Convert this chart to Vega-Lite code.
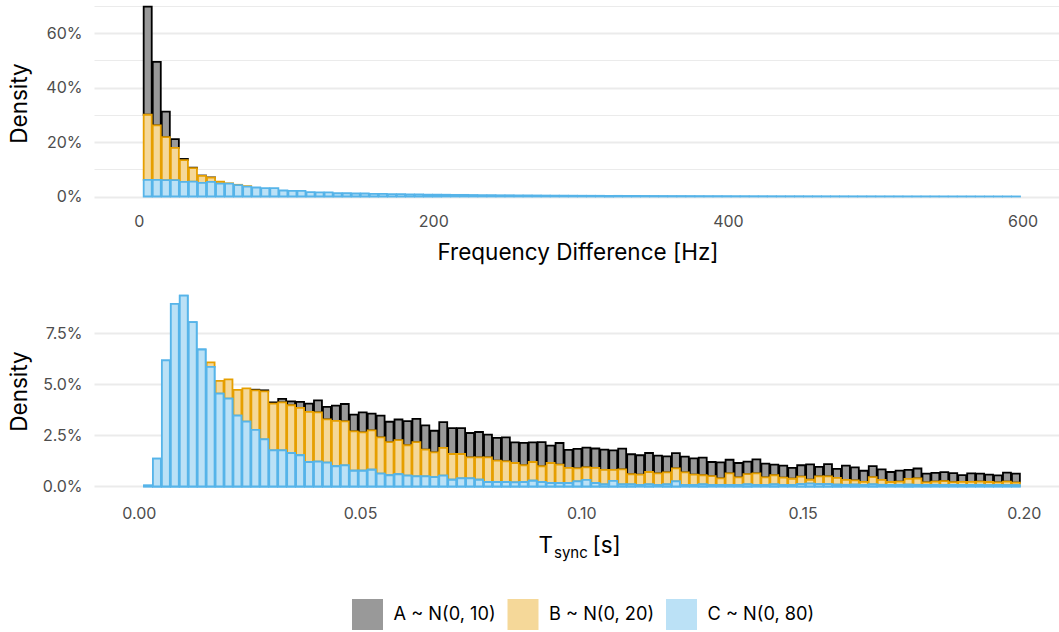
{
  "$schema": "https://vega.github.io/schema/vega-lite/v6.json",
  "background": "white",
  "padding": {"left": 8, "top": -3, "right": 0, "bottom": 0},
  "config": {
    "font": "Inter",
    "view": {"stroke": null},
    "axis": {
      "domain": false,
      "ticks": false,
      "gridColor": "#EBEBEB",
      "labelColor": "#4D4D4D",
      "labelFont": "Inter",
      "labelFontSize": 16,
      "labelOverlap": false,
      "labelFlush": false,
      "titleFont": "Inter",
      "titleFontSize": 22.5,
      "titleFontWeight": "normal",
      "titleColor": "#000000"
    },
    "title": {"font": "Inter", "fontWeight": "normal", "color": "#000000"}
  },
  "datasets": {
    "freq": [
      {"group":"A ~ N(0, 10)","start":2.7,"end":8.84,"density":0.397},
      {"group":"A ~ N(0, 10)","start":8.84,"end":14.98,"density":0.233},
      {"group":"A ~ N(0, 10)","start":14.98,"end":21.12,"density":0.094},
      {"group":"A ~ N(0, 10)","start":21.12,"end":27.26,"density":0.032},
      {"group":"A ~ N(0, 10)","start":27.26,"end":33.4,"density":0.004},
      {"group":"A ~ N(0, 10)","start":33.4,"end":39.54,"density":0.002},
      {"group":"A ~ N(0, 10)","start":39.54,"end":45.68,"density":0.001},
      {"group":"A ~ N(0, 10)","start":45.68,"end":51.82,"density":0.001},
      {"group":"B ~ N(0, 20)","start":2.7,"end":8.84,"density":0.239},
      {"group":"B ~ N(0, 20)","start":8.84,"end":14.98,"density":0.200},
      {"group":"B ~ N(0, 20)","start":14.98,"end":21.12,"density":0.158},
      {"group":"B ~ N(0, 20)","start":21.12,"end":27.26,"density":0.119},
      {"group":"B ~ N(0, 20)","start":27.26,"end":33.4,"density":0.080},
      {"group":"B ~ N(0, 20)","start":33.4,"end":39.54,"density":0.049},
      {"group":"B ~ N(0, 20)","start":39.54,"end":45.68,"density":0.026},
      {"group":"B ~ N(0, 20)","start":45.68,"end":51.82,"density":0.015},
      {"group":"B ~ N(0, 20)","start":51.82,"end":57.96,"density":0.008},
      {"group":"B ~ N(0, 20)","start":57.96,"end":64.1,"density":0.0015},
      {"group":"B ~ N(0, 20)","start":64.1,"end":70.24,"density":0.001},
      {"group":"B ~ N(0, 20)","start":70.24,"end":76.38,"density":0.002},
      {"group":"C ~ N(0, 80)","start":2.7,"end":8.84,"density":0.0613},
      {"group":"C ~ N(0, 80)","start":8.84,"end":14.98,"density":0.0613},
      {"group":"C ~ N(0, 80)","start":14.98,"end":21.12,"density":0.060},
      {"group":"C ~ N(0, 80)","start":21.12,"end":27.26,"density":0.060},
      {"group":"C ~ N(0, 80)","start":27.26,"end":33.4,"density":0.054},
      {"group":"C ~ N(0, 80)","start":33.4,"end":39.54,"density":0.055},
      {"group":"C ~ N(0, 80)","start":39.54,"end":45.68,"density":0.050},
      {"group":"C ~ N(0, 80)","start":45.68,"end":51.82,"density":0.054},
      {"group":"C ~ N(0, 80)","start":51.82,"end":57.96,"density":0.047},
      {"group":"C ~ N(0, 80)","start":57.96,"end":64.1,"density":0.047},
      {"group":"C ~ N(0, 80)","start":64.1,"end":70.24,"density":0.042},
      {"group":"C ~ N(0, 80)","start":70.24,"end":76.38,"density":0.036},
      {"group":"C ~ N(0, 80)","start":76.38,"end":82.52,"density":0.033},
      {"group":"C ~ N(0, 80)","start":82.52,"end":88.66,"density":0.031},
      {"group":"C ~ N(0, 80)","start":88.66,"end":94.8,"density":0.031},
      {"group":"C ~ N(0, 80)","start":94.8,"end":100.94,"density":0.022},
      {"group":"C ~ N(0, 80)","start":100.94,"end":107.08,"density":0.021},
      {"group":"C ~ N(0, 80)","start":107.08,"end":113.22,"density":0.021},
      {"group":"C ~ N(0, 80)","start":113.22,"end":119.36,"density":0.016},
      {"group":"C ~ N(0, 80)","start":119.36,"end":125.5,"density":0.015},
      {"group":"C ~ N(0, 80)","start":125.5,"end":131.64,"density":0.015},
      {"group":"C ~ N(0, 80)","start":131.64,"end":137.78,"density":0.012},
      {"group":"C ~ N(0, 80)","start":137.78,"end":143.92,"density":0.012},
      {"group":"C ~ N(0, 80)","start":143.92,"end":150.06,"density":0.011},
      {"group":"C ~ N(0, 80)","start":150.06,"end":156.2,"density":0.011},
      {"group":"C ~ N(0, 80)","start":156.2,"end":162.34,"density":0.010},
      {"group":"C ~ N(0, 80)","start":162.34,"end":168.48,"density":0.0095},
      {"group":"C ~ N(0, 80)","start":168.48,"end":174.62,"density":0.009},
      {"group":"C ~ N(0, 80)","start":174.62,"end":180.76,"density":0.0085},
      {"group":"C ~ N(0, 80)","start":180.76,"end":186.9,"density":0.008},
      {"group":"C ~ N(0, 80)","start":186.9,"end":193.04,"density":0.0075},
      {"group":"C ~ N(0, 80)","start":193.04,"end":199.18,"density":0.007},
      {"group":"C ~ N(0, 80)","start":199.18,"end":205.32,"density":0.007},
      {"group":"C ~ N(0, 80)","start":205.32,"end":211.46,"density":0.0065},
      {"group":"C ~ N(0, 80)","start":211.46,"end":217.6,"density":0.006},
      {"group":"C ~ N(0, 80)","start":217.6,"end":223.74,"density":0.006},
      {"group":"C ~ N(0, 80)","start":223.74,"end":229.88,"density":0.0055},
      {"group":"C ~ N(0, 80)","start":229.88,"end":236.02,"density":0.005},
      {"group":"C ~ N(0, 80)","start":236.02,"end":242.16,"density":0.005},
      {"group":"C ~ N(0, 80)","start":242.16,"end":248.3,"density":0.0045},
      {"group":"C ~ N(0, 80)","start":248.3,"end":254.44,"density":0.0045},
      {"group":"C ~ N(0, 80)","start":254.44,"end":260.58,"density":0.004},
      {"group":"C ~ N(0, 80)","start":260.58,"end":266.72,"density":0.004},
      {"group":"C ~ N(0, 80)","start":266.72,"end":272.86,"density":0.0038},
      {"group":"C ~ N(0, 80)","start":272.86,"end":279,"density":0.0035},
      {"group":"C ~ N(0, 80)","start":279,"end":285.14,"density":0.0033},
      {"group":"C ~ N(0, 80)","start":285.14,"end":291.28,"density":0.0032},
      {"group":"C ~ N(0, 80)","start":291.28,"end":297.42,"density":0.003},
      {"group":"C ~ N(0, 80)","start":297.42,"end":303.56,"density":0.0028},
      {"group":"C ~ N(0, 80)","start":303.56,"end":309.7,"density":0.0027},
      {"group":"C ~ N(0, 80)","start":309.7,"end":315.84,"density":0.0026},
      {"group":"C ~ N(0, 80)","start":315.84,"end":321.98,"density":0.0025},
      {"group":"C ~ N(0, 80)","start":321.98,"end":328.12,"density":0.0024},
      {"group":"C ~ N(0, 80)","start":328.12,"end":334.26,"density":0.0023},
      {"group":"C ~ N(0, 80)","start":334.26,"end":340.4,"density":0.0022},
      {"group":"C ~ N(0, 80)","start":340.4,"end":346.54,"density":0.0021},
      {"group":"C ~ N(0, 80)","start":346.54,"end":352.68,"density":0.002},
      {"group":"C ~ N(0, 80)","start":352.68,"end":358.82,"density":0.0019},
      {"group":"C ~ N(0, 80)","start":358.82,"end":364.96,"density":0.0018},
      {"group":"C ~ N(0, 80)","start":364.96,"end":371.1,"density":0.0018},
      {"group":"C ~ N(0, 80)","start":371.1,"end":377.24,"density":0.0017},
      {"group":"C ~ N(0, 80)","start":377.24,"end":383.38,"density":0.0016},
      {"group":"C ~ N(0, 80)","start":383.38,"end":389.52,"density":0.0015},
      {"group":"C ~ N(0, 80)","start":389.52,"end":395.66,"density":0.0015},
      {"group":"C ~ N(0, 80)","start":395.66,"end":401.8,"density":0.0014},
      {"group":"C ~ N(0, 80)","start":401.8,"end":407.94,"density":0.0013},
      {"group":"C ~ N(0, 80)","start":407.94,"end":414.08,"density":0.0013},
      {"group":"C ~ N(0, 80)","start":414.08,"end":420.22,"density":0.0012},
      {"group":"C ~ N(0, 80)","start":420.22,"end":426.36,"density":0.0012},
      {"group":"C ~ N(0, 80)","start":426.36,"end":432.5,"density":0.0011},
      {"group":"C ~ N(0, 80)","start":432.5,"end":438.64,"density":0.001},
      {"group":"C ~ N(0, 80)","start":438.64,"end":444.78,"density":0.001},
      {"group":"C ~ N(0, 80)","start":444.78,"end":450.92,"density":0.001},
      {"group":"C ~ N(0, 80)","start":450.92,"end":457.06,"density":0.0009},
      {"group":"C ~ N(0, 80)","start":457.06,"end":463.2,"density":0.0009},
      {"group":"C ~ N(0, 80)","start":463.2,"end":469.34,"density":0.0008},
      {"group":"C ~ N(0, 80)","start":469.34,"end":475.48,"density":0.0008},
      {"group":"C ~ N(0, 80)","start":475.48,"end":481.62,"density":0.0008},
      {"group":"C ~ N(0, 80)","start":481.62,"end":487.76,"density":0.0007},
      {"group":"C ~ N(0, 80)","start":487.76,"end":493.9,"density":0.0007},
      {"group":"C ~ N(0, 80)","start":493.9,"end":500.04,"density":0.0007},
      {"group":"C ~ N(0, 80)","start":500.04,"end":506.18,"density":0.0006},
      {"group":"C ~ N(0, 80)","start":506.18,"end":512.32,"density":0.0006},
      {"group":"C ~ N(0, 80)","start":512.32,"end":518.46,"density":0.0006},
      {"group":"C ~ N(0, 80)","start":518.46,"end":524.6,"density":0.0005},
      {"group":"C ~ N(0, 80)","start":524.6,"end":530.74,"density":0.0005},
      {"group":"C ~ N(0, 80)","start":530.74,"end":536.88,"density":0.0005},
      {"group":"C ~ N(0, 80)","start":536.88,"end":543.02,"density":0.0005},
      {"group":"C ~ N(0, 80)","start":543.02,"end":549.16,"density":0.0004},
      {"group":"C ~ N(0, 80)","start":549.16,"end":555.3,"density":0.0004},
      {"group":"C ~ N(0, 80)","start":555.3,"end":561.44,"density":0.0004},
      {"group":"C ~ N(0, 80)","start":561.44,"end":567.58,"density":0.0004},
      {"group":"C ~ N(0, 80)","start":567.58,"end":573.72,"density":0.0003},
      {"group":"C ~ N(0, 80)","start":573.72,"end":579.86,"density":0.0003},
      {"group":"C ~ N(0, 80)","start":579.86,"end":586,"density":0.0003},
      {"group":"C ~ N(0, 80)","start":586,"end":592.14,"density":0.0003},
      {"group":"C ~ N(0, 80)","start":592.14,"end":598.28,"density":0.0002}
    ],
    "tsync": [
      {"group":"A ~ N(0, 10)","start":0.025214,"end":0.027236,"density":0.0003},
      {"group":"A ~ N(0, 10)","start":0.027236,"end":0.029258,"density":0.0005},
      {"group":"A ~ N(0, 10)","start":0.029258,"end":0.03128,"density":0.0006},
      {"group":"A ~ N(0, 10)","start":0.03128,"end":0.033302,"density":0.0017},
      {"group":"A ~ N(0, 10)","start":0.033302,"end":0.035324,"density":0.0019},
      {"group":"A ~ N(0, 10)","start":0.035324,"end":0.037346,"density":0.0029},
      {"group":"A ~ N(0, 10)","start":0.037346,"end":0.039368,"density":0.0041},
      {"group":"A ~ N(0, 10)","start":0.039368,"end":0.04139,"density":0.0059},
      {"group":"A ~ N(0, 10)","start":0.04139,"end":0.043412,"density":0.0061},
      {"group":"A ~ N(0, 10)","start":0.043412,"end":0.045434,"density":0.0075},
      {"group":"A ~ N(0, 10)","start":0.045434,"end":0.047456,"density":0.0085},
      {"group":"A ~ N(0, 10)","start":0.047456,"end":0.049478,"density":0.0082},
      {"group":"A ~ N(0, 10)","start":0.049478,"end":0.0515,"density":0.0098},
      {"group":"A ~ N(0, 10)","start":0.0515,"end":0.053522,"density":0.0082},
      {"group":"A ~ N(0, 10)","start":0.053522,"end":0.055544,"density":0.0106},
      {"group":"A ~ N(0, 10)","start":0.055544,"end":0.057566,"density":0.0100},
      {"group":"A ~ N(0, 10)","start":0.057566,"end":0.059588,"density":0.0101},
      {"group":"A ~ N(0, 10)","start":0.059588,"end":0.06161,"density":0.0118},
      {"group":"A ~ N(0, 10)","start":0.06161,"end":0.063632,"density":0.0114},
      {"group":"A ~ N(0, 10)","start":0.063632,"end":0.065654,"density":0.0118},
      {"group":"A ~ N(0, 10)","start":0.065654,"end":0.067676,"density":0.0106},
      {"group":"A ~ N(0, 10)","start":0.067676,"end":0.069698,"density":0.0126},
      {"group":"A ~ N(0, 10)","start":0.069698,"end":0.07172,"density":0.0127},
      {"group":"A ~ N(0, 10)","start":0.07172,"end":0.073742,"density":0.0127},
      {"group":"A ~ N(0, 10)","start":0.073742,"end":0.075764,"density":0.0119},
      {"group":"A ~ N(0, 10)","start":0.075764,"end":0.077786,"density":0.0124},
      {"group":"A ~ N(0, 10)","start":0.077786,"end":0.079808,"density":0.0111},
      {"group":"A ~ N(0, 10)","start":0.079808,"end":0.08183,"density":0.0111},
      {"group":"A ~ N(0, 10)","start":0.08183,"end":0.083852,"density":0.0118},
      {"group":"A ~ N(0, 10)","start":0.083852,"end":0.085874,"density":0.0101},
      {"group":"A ~ N(0, 10)","start":0.085874,"end":0.087896,"density":0.0110},
      {"group":"A ~ N(0, 10)","start":0.087896,"end":0.089918,"density":0.0096},
      {"group":"A ~ N(0, 10)","start":0.089918,"end":0.09194,"density":0.0118},
      {"group":"A ~ N(0, 10)","start":0.09194,"end":0.093962,"density":0.0085},
      {"group":"A ~ N(0, 10)","start":0.093962,"end":0.095984,"density":0.0106},
      {"group":"A ~ N(0, 10)","start":0.095984,"end":0.098006,"density":0.0088},
      {"group":"A ~ N(0, 10)","start":0.098006,"end":0.100028,"density":0.0095},
      {"group":"A ~ N(0, 10)","start":0.100028,"end":0.10205,"density":0.0096},
      {"group":"A ~ N(0, 10)","start":0.10205,"end":0.104072,"density":0.0095},
      {"group":"A ~ N(0, 10)","start":0.104072,"end":0.106094,"density":0.0100},
      {"group":"A ~ N(0, 10)","start":0.106094,"end":0.108116,"density":0.0096},
      {"group":"A ~ N(0, 10)","start":0.108116,"end":0.110138,"density":0.0101},
      {"group":"A ~ N(0, 10)","start":0.110138,"end":0.11216,"density":0.0098},
      {"group":"A ~ N(0, 10)","start":0.11216,"end":0.114182,"density":0.0095},
      {"group":"A ~ N(0, 10)","start":0.114182,"end":0.116204,"density":0.0093},
      {"group":"A ~ N(0, 10)","start":0.116204,"end":0.118226,"density":0.0087},
      {"group":"A ~ N(0, 10)","start":0.118226,"end":0.120248,"density":0.0078},
      {"group":"A ~ N(0, 10)","start":0.120248,"end":0.12227,"density":0.0074},
      {"group":"A ~ N(0, 10)","start":0.12227,"end":0.124292,"density":0.0077},
      {"group":"A ~ N(0, 10)","start":0.124292,"end":0.126314,"density":0.0080},
      {"group":"A ~ N(0, 10)","start":0.126314,"end":0.128336,"density":0.0086},
      {"group":"A ~ N(0, 10)","start":0.128336,"end":0.130358,"density":0.0069},
      {"group":"A ~ N(0, 10)","start":0.130358,"end":0.13238,"density":0.0078},
      {"group":"A ~ N(0, 10)","start":0.13238,"end":0.134402,"density":0.0067},
      {"group":"A ~ N(0, 10)","start":0.134402,"end":0.136424,"density":0.0070},
      {"group":"A ~ N(0, 10)","start":0.136424,"end":0.138446,"density":0.0061},
      {"group":"A ~ N(0, 10)","start":0.138446,"end":0.140468,"density":0.0069},
      {"group":"A ~ N(0, 10)","start":0.140468,"end":0.14249,"density":0.0067},
      {"group":"A ~ N(0, 10)","start":0.14249,"end":0.144512,"density":0.0052},
      {"group":"A ~ N(0, 10)","start":0.144512,"end":0.146534,"density":0.0059},
      {"group":"A ~ N(0, 10)","start":0.146534,"end":0.148556,"density":0.0053},
      {"group":"A ~ N(0, 10)","start":0.148556,"end":0.150578,"density":0.0056},
      {"group":"A ~ N(0, 10)","start":0.150578,"end":0.1526,"density":0.0075},
      {"group":"A ~ N(0, 10)","start":0.1526,"end":0.154622,"density":0.0046},
      {"group":"A ~ N(0, 10)","start":0.154622,"end":0.156644,"density":0.0060},
      {"group":"A ~ N(0, 10)","start":0.156644,"end":0.158666,"density":0.0044},
      {"group":"A ~ N(0, 10)","start":0.158666,"end":0.160688,"density":0.0070},
      {"group":"A ~ N(0, 10)","start":0.160688,"end":0.16271,"density":0.0064},
      {"group":"A ~ N(0, 10)","start":0.16271,"end":0.164732,"density":0.0054},
      {"group":"A ~ N(0, 10)","start":0.164732,"end":0.166754,"density":0.0054},
      {"group":"A ~ N(0, 10)","start":0.166754,"end":0.168776,"density":0.0052},
      {"group":"A ~ N(0, 10)","start":0.168776,"end":0.170798,"density":0.0049},
      {"group":"A ~ N(0, 10)","start":0.170798,"end":0.17282,"density":0.0054},
      {"group":"A ~ N(0, 10)","start":0.17282,"end":0.174842,"density":0.0044},
      {"group":"A ~ N(0, 10)","start":0.174842,"end":0.176864,"density":0.0049},
      {"group":"A ~ N(0, 10)","start":0.176864,"end":0.178886,"density":0.0043},
      {"group":"A ~ N(0, 10)","start":0.178886,"end":0.180908,"density":0.0043},
      {"group":"A ~ N(0, 10)","start":0.180908,"end":0.18293,"density":0.0044},
      {"group":"A ~ N(0, 10)","start":0.18293,"end":0.184952,"density":0.0044},
      {"group":"A ~ N(0, 10)","start":0.184952,"end":0.186974,"density":0.0033},
      {"group":"A ~ N(0, 10)","start":0.186974,"end":0.188996,"density":0.0041},
      {"group":"A ~ N(0, 10)","start":0.188996,"end":0.191018,"density":0.0039},
      {"group":"A ~ N(0, 10)","start":0.191018,"end":0.19304,"density":0.0036},
      {"group":"A ~ N(0, 10)","start":0.19304,"end":0.195062,"density":0.0034},
      {"group":"A ~ N(0, 10)","start":0.195062,"end":0.197084,"density":0.0044},
      {"group":"A ~ N(0, 10)","start":0.197084,"end":0.199106,"density":0.0044},
      {"group":"B ~ N(0, 20)","start":0.015104,"end":0.017126,"density":0.0022},
      {"group":"B ~ N(0, 20)","start":0.017126,"end":0.019148,"density":0.0062},
      {"group":"B ~ N(0, 20)","start":0.019148,"end":0.02117,"density":0.0095},
      {"group":"B ~ N(0, 20)","start":0.02117,"end":0.023192,"density":0.0126},
      {"group":"B ~ N(0, 20)","start":0.023192,"end":0.025214,"density":0.0163},
      {"group":"B ~ N(0, 20)","start":0.025214,"end":0.027236,"density":0.0194},
      {"group":"B ~ N(0, 20)","start":0.027236,"end":0.029258,"density":0.0235},
      {"group":"B ~ N(0, 20)","start":0.029258,"end":0.03128,"density":0.0229},
      {"group":"B ~ N(0, 20)","start":0.03128,"end":0.033302,"density":0.0235},
      {"group":"B ~ N(0, 20)","start":0.033302,"end":0.035324,"density":0.0234},
      {"group":"B ~ N(0, 20)","start":0.035324,"end":0.037346,"density":0.0232},
      {"group":"B ~ N(0, 20)","start":0.037346,"end":0.039368,"density":0.0245},
      {"group":"B ~ N(0, 20)","start":0.039368,"end":0.04139,"density":0.0241},
      {"group":"B ~ N(0, 20)","start":0.04139,"end":0.043412,"density":0.0212},
      {"group":"B ~ N(0, 20)","start":0.043412,"end":0.045434,"density":0.0222},
      {"group":"B ~ N(0, 20)","start":0.045434,"end":0.047456,"density":0.0216},
      {"group":"B ~ N(0, 20)","start":0.047456,"end":0.049478,"density":0.0193},
      {"group":"B ~ N(0, 20)","start":0.049478,"end":0.0515,"density":0.0188},
      {"group":"B ~ N(0, 20)","start":0.0515,"end":0.053522,"density":0.0193},
      {"group":"B ~ N(0, 20)","start":0.053522,"end":0.055544,"density":0.0178},
      {"group":"B ~ N(0, 20)","start":0.055544,"end":0.057566,"density":0.0162},
      {"group":"B ~ N(0, 20)","start":0.057566,"end":0.059588,"density":0.0167},
      {"group":"B ~ N(0, 20)","start":0.059588,"end":0.06161,"density":0.0149},
      {"group":"B ~ N(0, 20)","start":0.06161,"end":0.063632,"density":0.0167},
      {"group":"B ~ N(0, 20)","start":0.063632,"end":0.065654,"density":0.0131},
      {"group":"B ~ N(0, 20)","start":0.065654,"end":0.067676,"density":0.0121},
      {"group":"B ~ N(0, 20)","start":0.067676,"end":0.069698,"density":0.0136},
      {"group":"B ~ N(0, 20)","start":0.069698,"end":0.07172,"density":0.0126},
      {"group":"B ~ N(0, 20)","start":0.07172,"end":0.073742,"density":0.0119},
      {"group":"B ~ N(0, 20)","start":0.073742,"end":0.075764,"density":0.0103},
      {"group":"B ~ N(0, 20)","start":0.075764,"end":0.077786,"density":0.0110},
      {"group":"B ~ N(0, 20)","start":0.077786,"end":0.079808,"density":0.0121},
      {"group":"B ~ N(0, 20)","start":0.079808,"end":0.08183,"density":0.0105},
      {"group":"B ~ N(0, 20)","start":0.08183,"end":0.083852,"density":0.0101},
      {"group":"B ~ N(0, 20)","start":0.083852,"end":0.085874,"density":0.0095},
      {"group":"B ~ N(0, 20)","start":0.085874,"end":0.087896,"density":0.0082},
      {"group":"B ~ N(0, 20)","start":0.087896,"end":0.089918,"density":0.0092},
      {"group":"B ~ N(0, 20)","start":0.089918,"end":0.09194,"density":0.0077},
      {"group":"B ~ N(0, 20)","start":0.09194,"end":0.093962,"density":0.0098},
      {"group":"B ~ N(0, 20)","start":0.093962,"end":0.095984,"density":0.0090},
      {"group":"B ~ N(0, 20)","start":0.095984,"end":0.098006,"density":0.0074},
      {"group":"B ~ N(0, 20)","start":0.098006,"end":0.100028,"density":0.0064},
      {"group":"B ~ N(0, 20)","start":0.100028,"end":0.10205,"density":0.0062},
      {"group":"B ~ N(0, 20)","start":0.10205,"end":0.104072,"density":0.0074},
      {"group":"B ~ N(0, 20)","start":0.104072,"end":0.106094,"density":0.0071},
      {"group":"B ~ N(0, 20)","start":0.106094,"end":0.108116,"density":0.0054},
      {"group":"B ~ N(0, 20)","start":0.108116,"end":0.110138,"density":0.0074},
      {"group":"B ~ N(0, 20)","start":0.110138,"end":0.11216,"density":0.0050},
      {"group":"B ~ N(0, 20)","start":0.11216,"end":0.114182,"density":0.0051},
      {"group":"B ~ N(0, 20)","start":0.114182,"end":0.116204,"density":0.0061},
      {"group":"B ~ N(0, 20)","start":0.116204,"end":0.118226,"density":0.0057},
      {"group":"B ~ N(0, 20)","start":0.118226,"end":0.120248,"density":0.0059},
      {"group":"B ~ N(0, 20)","start":0.120248,"end":0.12227,"density":0.0064},
      {"group":"B ~ N(0, 20)","start":0.12227,"end":0.124292,"density":0.0062},
      {"group":"B ~ N(0, 20)","start":0.124292,"end":0.126314,"density":0.0051},
      {"group":"B ~ N(0, 20)","start":0.126314,"end":0.128336,"density":0.0045},
      {"group":"B ~ N(0, 20)","start":0.128336,"end":0.130358,"density":0.0044},
      {"group":"B ~ N(0, 20)","start":0.130358,"end":0.13238,"density":0.0033},
      {"group":"B ~ N(0, 20)","start":0.13238,"end":0.134402,"density":0.0057},
      {"group":"B ~ N(0, 20)","start":0.134402,"end":0.136424,"density":0.0038},
      {"group":"B ~ N(0, 20)","start":0.136424,"end":0.138446,"density":0.0051},
      {"group":"B ~ N(0, 20)","start":0.138446,"end":0.140468,"density":0.0057},
      {"group":"B ~ N(0, 20)","start":0.140468,"end":0.14249,"density":0.0038},
      {"group":"B ~ N(0, 20)","start":0.14249,"end":0.144512,"density":0.0045},
      {"group":"B ~ N(0, 20)","start":0.144512,"end":0.146534,"density":0.0036},
      {"group":"B ~ N(0, 20)","start":0.146534,"end":0.148556,"density":0.0031},
      {"group":"B ~ N(0, 20)","start":0.148556,"end":0.150578,"density":0.0036},
      {"group":"B ~ N(0, 20)","start":0.150578,"end":0.1526,"density":0.0019},
      {"group":"B ~ N(0, 20)","start":0.1526,"end":0.154622,"density":0.0038},
      {"group":"B ~ N(0, 20)","start":0.154622,"end":0.156644,"density":0.0038},
      {"group":"B ~ N(0, 20)","start":0.156644,"end":0.158666,"density":0.0033},
      {"group":"B ~ N(0, 20)","start":0.158666,"end":0.160688,"density":0.0024},
      {"group":"B ~ N(0, 20)","start":0.160688,"end":0.16271,"density":0.0021},
      {"group":"B ~ N(0, 20)","start":0.16271,"end":0.164732,"density":0.0016},
      {"group":"B ~ N(0, 20)","start":0.164732,"end":0.166754,"density":0.0036},
      {"group":"B ~ N(0, 20)","start":0.166754,"end":0.168776,"density":0.0024},
      {"group":"B ~ N(0, 20)","start":0.168776,"end":0.170798,"density":0.0015},
      {"group":"B ~ N(0, 20)","start":0.170798,"end":0.17282,"density":0.0016},
      {"group":"B ~ N(0, 20)","start":0.17282,"end":0.174842,"density":0.0028},
      {"group":"B ~ N(0, 20)","start":0.174842,"end":0.176864,"density":0.0031},
      {"group":"B ~ N(0, 20)","start":0.176864,"end":0.178886,"density":0.0013},
      {"group":"B ~ N(0, 20)","start":0.178886,"end":0.180908,"density":0.0016},
      {"group":"B ~ N(0, 20)","start":0.180908,"end":0.18293,"density":0.0019},
      {"group":"B ~ N(0, 20)","start":0.18293,"end":0.184952,"density":0.0013},
      {"group":"B ~ N(0, 20)","start":0.184952,"end":0.186974,"density":0.0016},
      {"group":"B ~ N(0, 20)","start":0.186974,"end":0.188996,"density":0.0016},
      {"group":"B ~ N(0, 20)","start":0.188996,"end":0.191018,"density":0.0016},
      {"group":"B ~ N(0, 20)","start":0.191018,"end":0.19304,"density":0.0016},
      {"group":"B ~ N(0, 20)","start":0.19304,"end":0.195062,"density":0.0013},
      {"group":"B ~ N(0, 20)","start":0.195062,"end":0.197084,"density":0.0018},
      {"group":"B ~ N(0, 20)","start":0.197084,"end":0.199106,"density":0.0013},
      {"group":"C ~ N(0, 80)","start":0.00095,"end":0.002972,"density":0.0005},
      {"group":"C ~ N(0, 80)","start":0.002972,"end":0.004994,"density":0.0136},
      {"group":"C ~ N(0, 80)","start":0.004994,"end":0.007016,"density":0.0618},
      {"group":"C ~ N(0, 80)","start":0.007016,"end":0.009038,"density":0.0894},
      {"group":"C ~ N(0, 80)","start":0.009038,"end":0.01106,"density":0.0935},
      {"group":"C ~ N(0, 80)","start":0.01106,"end":0.013082,"density":0.0805},
      {"group":"C ~ N(0, 80)","start":0.013082,"end":0.015104,"density":0.0671},
      {"group":"C ~ N(0, 80)","start":0.015104,"end":0.017126,"density":0.0586},
      {"group":"C ~ N(0, 80)","start":0.017126,"end":0.019148,"density":0.0455},
      {"group":"C ~ N(0, 80)","start":0.019148,"end":0.02117,"density":0.0430},
      {"group":"C ~ N(0, 80)","start":0.02117,"end":0.023192,"density":0.0347},
      {"group":"C ~ N(0, 80)","start":0.023192,"end":0.025214,"density":0.0318},
      {"group":"C ~ N(0, 80)","start":0.025214,"end":0.027236,"density":0.0277},
      {"group":"C ~ N(0, 80)","start":0.027236,"end":0.029258,"density":0.0231},
      {"group":"C ~ N(0, 80)","start":0.029258,"end":0.03128,"density":0.0177},
      {"group":"C ~ N(0, 80)","start":0.03128,"end":0.033302,"density":0.0177},
      {"group":"C ~ N(0, 80)","start":0.033302,"end":0.035324,"density":0.0164},
      {"group":"C ~ N(0, 80)","start":0.035324,"end":0.037346,"density":0.0153},
      {"group":"C ~ N(0, 80)","start":0.037346,"end":0.039368,"density":0.0120},
      {"group":"C ~ N(0, 80)","start":0.039368,"end":0.04139,"density":0.0122},
      {"group":"C ~ N(0, 80)","start":0.04139,"end":0.043412,"density":0.0117},
      {"group":"C ~ N(0, 80)","start":0.043412,"end":0.045434,"density":0.0099},
      {"group":"C ~ N(0, 80)","start":0.045434,"end":0.047456,"density":0.0103},
      {"group":"C ~ N(0, 80)","start":0.047456,"end":0.049478,"density":0.0077},
      {"group":"C ~ N(0, 80)","start":0.049478,"end":0.0515,"density":0.0077},
      {"group":"C ~ N(0, 80)","start":0.0515,"end":0.053522,"density":0.0082},
      {"group":"C ~ N(0, 80)","start":0.053522,"end":0.055544,"density":0.0063},
      {"group":"C ~ N(0, 80)","start":0.055544,"end":0.057566,"density":0.0055},
      {"group":"C ~ N(0, 80)","start":0.057566,"end":0.059588,"density":0.0060},
      {"group":"C ~ N(0, 80)","start":0.059588,"end":0.06161,"density":0.0053},
      {"group":"C ~ N(0, 80)","start":0.06161,"end":0.063632,"density":0.0050},
      {"group":"C ~ N(0, 80)","start":0.063632,"end":0.065654,"density":0.0050},
      {"group":"C ~ N(0, 80)","start":0.065654,"end":0.067676,"density":0.0046},
      {"group":"C ~ N(0, 80)","start":0.067676,"end":0.069698,"density":0.0053},
      {"group":"C ~ N(0, 80)","start":0.069698,"end":0.07172,"density":0.0033},
      {"group":"C ~ N(0, 80)","start":0.07172,"end":0.073742,"density":0.0040},
      {"group":"C ~ N(0, 80)","start":0.073742,"end":0.075764,"density":0.0040},
      {"group":"C ~ N(0, 80)","start":0.075764,"end":0.077786,"density":0.0033},
      {"group":"C ~ N(0, 80)","start":0.077786,"end":0.079808,"density":0.0022},
      {"group":"C ~ N(0, 80)","start":0.079808,"end":0.08183,"density":0.0022},
      {"group":"C ~ N(0, 80)","start":0.08183,"end":0.083852,"density":0.0022},
      {"group":"C ~ N(0, 80)","start":0.083852,"end":0.085874,"density":0.0020},
      {"group":"C ~ N(0, 80)","start":0.085874,"end":0.087896,"density":0.0022},
      {"group":"C ~ N(0, 80)","start":0.087896,"end":0.089918,"density":0.0028},
      {"group":"C ~ N(0, 80)","start":0.089918,"end":0.09194,"density":0.0022},
      {"group":"C ~ N(0, 80)","start":0.09194,"end":0.093962,"density":0.0017},
      {"group":"C ~ N(0, 80)","start":0.093962,"end":0.095984,"density":0.0017},
      {"group":"C ~ N(0, 80)","start":0.095984,"end":0.098006,"density":0.0017},
      {"group":"C ~ N(0, 80)","start":0.098006,"end":0.100028,"density":0.0025},
      {"group":"C ~ N(0, 80)","start":0.100028,"end":0.10205,"density":0.0032},
      {"group":"C ~ N(0, 80)","start":0.10205,"end":0.104072,"density":0.0017},
      {"group":"C ~ N(0, 80)","start":0.104072,"end":0.106094,"density":0.0010},
      {"group":"C ~ N(0, 80)","start":0.106094,"end":0.108116,"density":0.0027},
      {"group":"C ~ N(0, 80)","start":0.108116,"end":0.110138,"density":0.0010},
      {"group":"C ~ N(0, 80)","start":0.110138,"end":0.11216,"density":0.0010},
      {"group":"C ~ N(0, 80)","start":0.11216,"end":0.114182,"density":0.0007},
      {"group":"C ~ N(0, 80)","start":0.114182,"end":0.116204,"density":0.0010},
      {"group":"C ~ N(0, 80)","start":0.116204,"end":0.118226,"density":0.0007},
      {"group":"C ~ N(0, 80)","start":0.118226,"end":0.120248,"density":0.0010},
      {"group":"C ~ N(0, 80)","start":0.120248,"end":0.12227,"density":0.0025},
      {"group":"C ~ N(0, 80)","start":0.12227,"end":0.124292,"density":0.0007},
      {"group":"C ~ N(0, 80)","start":0.124292,"end":0.126314,"density":0.0007},
      {"group":"C ~ N(0, 80)","start":0.126314,"end":0.128336,"density":0.0010},
      {"group":"C ~ N(0, 80)","start":0.128336,"end":0.130358,"density":0.0007},
      {"group":"C ~ N(0, 80)","start":0.130358,"end":0.13238,"density":0.0007},
      {"group":"C ~ N(0, 80)","start":0.13238,"end":0.134402,"density":0.0007},
      {"group":"C ~ N(0, 80)","start":0.134402,"end":0.136424,"density":0.0007},
      {"group":"C ~ N(0, 80)","start":0.136424,"end":0.138446,"density":0.0010},
      {"group":"C ~ N(0, 80)","start":0.138446,"end":0.140468,"density":0.0007},
      {"group":"C ~ N(0, 80)","start":0.140468,"end":0.14249,"density":0.0007},
      {"group":"C ~ N(0, 80)","start":0.14249,"end":0.144512,"density":0.0010},
      {"group":"C ~ N(0, 80)","start":0.144512,"end":0.146534,"density":0.0007},
      {"group":"C ~ N(0, 80)","start":0.146534,"end":0.148556,"density":0.0007},
      {"group":"C ~ N(0, 80)","start":0.148556,"end":0.150578,"density":0.0012},
      {"group":"C ~ N(0, 80)","start":0.150578,"end":0.1526,"density":0.0014},
      {"group":"C ~ N(0, 80)","start":0.1526,"end":0.154622,"density":0.0012},
      {"group":"C ~ N(0, 80)","start":0.154622,"end":0.156644,"density":0.0012},
      {"group":"C ~ N(0, 80)","start":0.156644,"end":0.158666,"density":0.0009},
      {"group":"C ~ N(0, 80)","start":0.158666,"end":0.160688,"density":0.0008},
      {"group":"C ~ N(0, 80)","start":0.160688,"end":0.16271,"density":0.0009},
      {"group":"C ~ N(0, 80)","start":0.16271,"end":0.164732,"density":0.0007},
      {"group":"C ~ N(0, 80)","start":0.164732,"end":0.166754,"density":0.0010},
      {"group":"C ~ N(0, 80)","start":0.166754,"end":0.168776,"density":0.0008},
      {"group":"C ~ N(0, 80)","start":0.168776,"end":0.170798,"density":0.0007},
      {"group":"C ~ N(0, 80)","start":0.170798,"end":0.17282,"density":0.0008},
      {"group":"C ~ N(0, 80)","start":0.17282,"end":0.174842,"density":0.0009},
      {"group":"C ~ N(0, 80)","start":0.174842,"end":0.176864,"density":0.0008},
      {"group":"C ~ N(0, 80)","start":0.176864,"end":0.178886,"density":0.0007},
      {"group":"C ~ N(0, 80)","start":0.178886,"end":0.180908,"density":0.0008},
      {"group":"C ~ N(0, 80)","start":0.180908,"end":0.18293,"density":0.0007},
      {"group":"C ~ N(0, 80)","start":0.18293,"end":0.184952,"density":0.0008},
      {"group":"C ~ N(0, 80)","start":0.184952,"end":0.186974,"density":0.0007},
      {"group":"C ~ N(0, 80)","start":0.186974,"end":0.188996,"density":0.0007},
      {"group":"C ~ N(0, 80)","start":0.188996,"end":0.191018,"density":0.0008},
      {"group":"C ~ N(0, 80)","start":0.191018,"end":0.19304,"density":0.0006},
      {"group":"C ~ N(0, 80)","start":0.19304,"end":0.195062,"density":0.0007},
      {"group":"C ~ N(0, 80)","start":0.195062,"end":0.197084,"density":0.0006},
      {"group":"C ~ N(0, 80)","start":0.197084,"end":0.199106,"density":0.0006}
    ]
  },
  "vconcat": [
    {
      "width": 967,
      "height": 206,
      "data": {"name": "freq"},
      "mark": {"type": "bar", "strokeWidth": 1.8},
      "encoding": {
        "x": {
          "field": "start",
          "type": "quantitative",
          "bin": "binned",
          "scale": {"domain": [-30.35, 626.1], "nice": false, "zero": false},
          "axis": {
            "title": "Frequency Difference [Hz]",
            "values": [0, 100, 200, 300, 400, 500, 600],
            "labelExpr": "datum.value % 200 === 0 ? format(datum.value, 'd') : ''",
            "gridWidth": {"condition": {"test": "datum.value % 200 === 0", "value": 2}, "value": 1},
            "labelPadding": 7,
            "titleBaseline": "alphabetic",
            "titleY": 53
          }
        },
        "x2": {"field": "end"},
        "y": {
          "field": "density",
          "type": "quantitative",
          "stack": "zero",
          "scale": {"domain": [-0.0349, 0.722], "nice": false, "zero": false},
          "axis": {
            "title": "Density",
            "values": [0, 0.1, 0.2, 0.3, 0.4, 0.5, 0.6, 0.7],
            "labelExpr": "round(datum.value * 100) % 20 === 0 ? format(datum.value, '.0%') : ''",
            "gridWidth": {"condition": {"test": "round(datum.value * 100) % 20 === 0", "value": 2}, "value": 1},
            "labelPadding": 12,
            "minExtent": 50,
            "maxExtent": 50,
            "titlePadding": 13
          }
        },
        "fill": {
          "field": "group",
          "type": "nominal",
          "scale": {"domain": ["A ~ N(0, 10)", "B ~ N(0, 20)", "C ~ N(0, 80)"], "range": ["#999999", "#F5D899", "#BBE1F6"]},
          "legend": {
            "title": null,
            "orient": "none",
            "direction": "horizontal",
            "legendX": 258,
            "legendY": 599,
            "symbolType": "square",
            "symbolSize": 961,
            "symbolStrokeWidth": 0,
            "symbolOpacity": 1,
            "labelFont": "Inter",
            "labelFontSize": 18.2,
            "labelColor": "#000000",
            "labelOffset": 10.5,
            "columnPadding": 11.5
          }
        },
        "stroke": {
          "field": "group",
          "type": "nominal",
          "scale": {"domain": ["A ~ N(0, 10)", "B ~ N(0, 20)", "C ~ N(0, 80)"], "range": ["#000000", "#E69F00", "#56B4E9"]},
          "legend": null
        },
        "order": {"field": "group", "sort": "descending"}
      }
    },
    {
      "width": 967,
      "height": 210,
      "title": {
        "text": "sync",
        "orient": "bottom",
        "anchor": "start",
        "frame": "group",
        "dx": 460,
        "offset": 1,
        "baseline": "alphabetic",
        "fontSize": 15,
        "fontWeight": "normal",
        "color": "#000000"
      },
      "layer": [
        {
          "data": {"name": "tsync"},
          "mark": {"type": "bar", "strokeWidth": 1.8},
          "encoding": {
            "x": {
              "field": "start",
              "type": "quantitative",
              "bin": "binned",
              "scale": {"domain": [-0.01012, 0.2084], "nice": false, "zero": false},
              "axis": {
                "orient": "bottom",
                "title": "T",
                "titleAlign": "left",
                "titleBaseline": "alphabetic",
                "titleX": 444,
                "titleY": 56,
                "values": [0, 0.025, 0.05, 0.075, 0.1, 0.125, 0.15, 0.175, 0.2],
                "labelExpr": "round(datum.value * 1000) % 50 === 0 ? format(datum.value, '.2f') : ''",
                "gridWidth": {"condition": {"test": "round(datum.value * 1000) % 50 === 0", "value": 2}, "value": 1},
                "labelPadding": 9
              }
            },
            "x2": {"field": "end"},
            "y": {
              "field": "density",
              "type": "quantitative",
              "stack": "zero",
              "scale": {"domain": [-0.00466, 0.0982], "nice": false, "zero": false},
              "axis": {
                "title": "Density",
                "values": [0, 0.0125, 0.025, 0.0375, 0.05, 0.0625, 0.075, 0.0875],
                "labelExpr": "round(datum.value * 10000) % 250 === 0 ? format(datum.value, '.1%') : ''",
                "gridWidth": {"condition": {"test": "round(datum.value * 10000) % 250 === 0", "value": 2}, "value": 1},
                "labelPadding": 12,
                "minExtent": 50,
                "maxExtent": 50,
                "titlePadding": 13
              }
            },
            "fill": {"field": "group", "type": "nominal"},
            "stroke": {"field": "group", "type": "nominal", "legend": null},
            "order": {"field": "group", "sort": "descending"}
          }
        },
        {
          "data": {"name": "tsync"},
          "transform": [{"filter": "datum.group === 'C ~ N(0, 80)'"}],
          "mark": {"type": "bar", "strokeWidth": 1.8},
          "encoding": {
            "x": {
              "field": "start",
              "type": "quantitative",
              "bin": "binned",
              "axis": {
                "orient": "bottom",
                "title": "[s]",
                "titleAlign": "left",
                "titleBaseline": "alphabetic",
                "titleX": 498,
                "titleY": 56,
                "labels": false,
                "grid": false
              }
            },
            "x2": {"field": "end"},
            "y": {"field": "density", "type": "quantitative", "stack": "zero"},
            "fill": {"field": "group", "type": "nominal"},
            "stroke": {"field": "group", "type": "nominal", "legend": null},
            "order": {"field": "group", "sort": "descending"}
          }
        }
      ],
      "resolve": {"axis": {"x": "independent"}}
    }
  ],
  "spacing": 80,
  "bounds": "flush",
  "resolve": {"scale": {"fill": "shared", "stroke": "shared"}, "legend": {"fill": "shared"}}
}
